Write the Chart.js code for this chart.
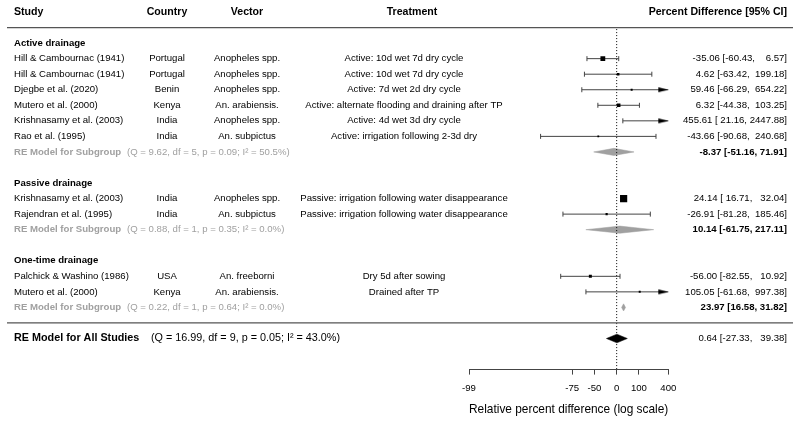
<!DOCTYPE html>
<html>
<head>
<meta charset="utf-8">
<script src="https://cdn.jsdelivr.net/npm/chart.js@4.4.1/dist/chart.umd.min.js"></script>
<style>
html, body { margin: 0; padding: 0; background: #fff; }
</style>
</head>
<body>
<canvas id="forest" width="800" height="422"></canvas>
<script>
// study level data
var studies = ["Hill & Cambournac (1941)", "Hill & Cambournac (1941)", "Djegbe et al. (2020)", "Mutero et al. (2000)", "Krishnasamy et al. (2003)", "Rao et al. (1995)", "Krishnasamy et al. (2003)", "Rajendran et al. (1995)", "Palchick & Washino (1986)", "Mutero et al. (2000)"];
var groups = ["Active drainage", "Active drainage", "Active drainage", "Active drainage", "Active drainage", "Active drainage", "Passive drainage", "Passive drainage", "One-time drainage", "One-time drainage"];
var countries = ["Portugal", "Portugal", "Benin", "Kenya", "India", "India", "India", "India", "USA", "Kenya"];
var vectors = ["Anopheles spp.", "Anopheles spp.", "Anopheles spp.", "An. arabiensis.", "Anopheles spp.", "An. subpictus", "Anopheles spp.", "An. subpictus", "An. freeborni", "An. arabiensis."];
var treatments = ["Active: 10d wet 7d dry cycle", "Active: 10d wet 7d dry cycle", "Active: 7d wet 2d dry cycle", "Active: alternate flooding and draining after TP", "Active: 4d wet 3d dry cycle", "Active: irrigation following 2-3d dry", "Passive: irrigation following water disappearance", "Passive: irrigation following water disappearance", "Dry 5d after sowing", "Drained after TP"];
var estimates = [-35.06, 4.62, 59.46, 6.32, 455.61, -43.66, 24.14, -26.91, -56.00, 105.05];
var lowers = [-60.43, -63.42, -66.29, -44.38, 21.16, -90.68, 16.71, -81.28, -82.55, -61.68];
var uppers = [6.57, 199.18, 654.22, 103.25, 2447.88, 240.68, 32.04, 185.46, 10.92, 997.38];
var weights = [18, 7, 4, 12, 4, 3, 30, 5, 9, 4];

// subgroup models
var groupNames = ["Active drainage", "Passive drainage", "One-time drainage"];
var groupEst = [-8.37, 10.14, 23.97];
var groupLower = [-51.16, -61.75, 16.58];
var groupUpper = [71.91, 217.11, 31.82];
var groupQ = ["9.62", "0.88", "0.22"];
var groupDf = [5, 1, 1];
var groupP = ["0.09", "0.35", "0.64"];
var groupI2 = ["50.5", "0.0", "0.0"];

// overall model
var allEst = 0.64;
var allLower = -27.33;
var allUpper = 39.38;
var allStats = ["16.99", 9, "0.05", "43.0"];

// axis
var tickValues = [-99, -75, -50, 0, 100, 400];
var axisTitle = "Relative percent difference (log scale)";

var FONT = "'Liberation Sans', Arial, sans-serif";

function lr(p){ return Math.log(1 + p / 100); }
var xMin = lr(tickValues[0]);
var xMax = lr(tickValues[tickValues.length - 1]);

// row layout (0 = header)
var studyRow = [];
var groupRow = [];
var subRow = [];
var row = 2;
groupNames.forEach(function(g, gi){
	groupRow[gi] = row; row++;
	studies.forEach(function(s, i){
		if(groups[i] == g){ studyRow[i] = row; row++; }
	});
	subRow[gi] = row; row += 2;
});
var lineRow = row - 1;
var allRow = row;
var axisRow = allRow + 2;

function arrowImage(dir){
	var c = document.createElement('canvas');
	c.width = 22; c.height = 7;
	var g = c.getContext('2d');
	g.fillStyle = '#000';
	g.beginPath();
	if(dir > 0){
		g.moveTo(1, 1); g.lineTo(11, 3.5); g.lineTo(1, 6);
	} else {
		g.moveTo(21, 1); g.lineTo(11, 3.5); g.lineTo(21, 6);
	}
	g.closePath();
	g.fill();
	return c;
}
var arrowRight = arrowImage(1);
var arrowLeft = arrowImage(-1);

function fmt(v, w){
	var s = v.toFixed(2);
	while(s.length < w) s = ' ' + s;
	return s;
}

// points
var pointData = [];
var pointSizes = [];
var wMin = Math.min.apply(null, weights), wMax = Math.max.apply(null, weights);
estimates.forEach(function(e, i){
	var x = lr(e);
	if(x < xMin || x > xMax) return;
	pointData.push({x: x, y: studyRow[i]});
	var side = 1.8 + 5.4 * (weights[i] - wMin) / (wMax - wMin);
	pointSizes.push(side / Math.SQRT2);
});

var datasets = [{
	data: pointData,
	pointStyle: 'rect',
	pointRadius: pointSizes,
	backgroundColor: '#000',
	borderWidth: 0,
	pointBorderWidth: 0
},{
	data: [{x: 0, y: 1.1}, {x: 0, y: axisRow}],
	showLine: true,
	borderColor: '#000',
	borderWidth: 1,
	borderDash: [1, 2],
	pointRadius: 0
}];

studies.forEach(function(s, i){
	var lo = lr(lowers[i]), hi = lr(uppers[i]);
	var loCut = lo < xMin, hiCut = hi > xMax;
	datasets.push({
		data: [{x: loCut ? xMin : lo, y: studyRow[i]}, {x: hiCut ? xMax : hi, y: studyRow[i]}],
		showLine: true,
		borderColor: '#444',
		borderWidth: 1,
		pointStyle: [loCut ? arrowLeft : 'line', hiCut ? arrowRight : 'line'],
		rotation: [loCut ? 0 : 90, hiCut ? 0 : 90],
		pointRadius: 2.5,
		pointBorderColor: '#444',
		pointBorderWidth: 1,
		clip: false
	});
});

function diamond(est, lo, hi, y, h, color){
	return {
		data: [{x: lr(lo), y: y}, {x: lr(est), y: y - h}, {x: lr(hi), y: y}, {x: lr(est), y: y + h}, {x: lr(lo), y: y}],
		showLine: true,
		fill: 'shape',
		backgroundColor: color,
		borderColor: color,
		borderWidth: 0.5,
		tension: 0,
		pointRadius: 0
	};
}
groupNames.forEach(function(g, gi){
	datasets.push(diamond(groupEst[gi], groupLower[gi], groupUpper[gi], subRow[gi], 0.23, '#a0a0a0'));
});
datasets.push(diamond(allEst, allLower, allUpper, allRow, 0.28, '#000'));

var textPlugin = {
	id: 'forestText',
	afterDraw: function(chart){
		var ctx = chart.ctx;
		var ys = chart.scales.y;
		var colStudy = 14, colCountry = 167, colVector = 247, colTreat = 404, colValue = 787;
		function Y(r){ return ys.getPixelForValue(r); }
		function txt(s, x, y, align, font, color){
			ctx.font = font;
			ctx.fillStyle = color || '#000';
			ctx.textAlign = align;
			ctx.textBaseline = 'middle';
			ctx.fillText(s, x, y);
		}
		var body = '9.6px ' + FONT;
		var bold = 'bold 9.6px ' + FONT;
		var head = 'bold 10.6px ' + FONT;
		ctx.save();

		// header
		txt('Study', colStudy, Y(0), 'left', head);
		txt('Country', colCountry, Y(0), 'center', head);
		txt('Vector', colVector, Y(0), 'center', head);
		txt('Treatment', 412, Y(0), 'center', head);
		txt('Percent Difference [95% CI]', colValue, Y(0), 'right', head);

		// separator lines
		ctx.strokeStyle = '#555';
		ctx.lineWidth = 1.3;
		[1, lineRow].forEach(function(r){
			ctx.beginPath();
			ctx.moveTo(7, Y(r));
			ctx.lineTo(793, Y(r));
			ctx.stroke();
		});

		groupNames.forEach(function(g, gi){
			txt(g, colStudy, Y(groupRow[gi]), 'left', bold);
			txt('RE Model for Subgroup', colStudy, Y(subRow[gi]), 'left', bold, '#a0a0a0');
			txt('(Q = ' + groupQ[gi] + ', df = ' + groupDf[gi] + ', p = ' + groupP[gi] + '; I\u00B2 = ' + groupI2[gi] + '%)', 127, Y(subRow[gi]), 'left', body, '#a0a0a0');
			txt(groupEst[gi].toFixed(2) + ' [' + groupLower[gi].toFixed(2) + ', ' + groupUpper[gi].toFixed(2) + ']', colValue, Y(subRow[gi]), 'right', bold);
		});

		studies.forEach(function(s, i){
			var y = Y(studyRow[i]);
			txt(s, colStudy, y, 'left', body);
			txt(countries[i], colCountry, y, 'center', body);
			txt(vectors[i], colVector, y, 'center', body);
			txt(treatments[i], colTreat, y, 'center', body);
			txt(estimates[i].toFixed(2) + ' [' + fmt(lowers[i], 6) + ', ' + fmt(uppers[i], 7) + ']', colValue, y, 'right', body);
		});

		// overall
		txt('RE Model for All Studies', colStudy, Y(allRow), 'left', 'bold 10.8px ' + FONT);
		txt('(Q = ' + allStats[0] + ', df = ' + allStats[1] + ', p = ' + allStats[2] + '; I\u00B2 = ' + allStats[3] + '%)', 151, Y(allRow), 'left', '10.8px ' + FONT);
		txt(allEst.toFixed(2) + ' [' + fmt(allLower, 6) + ', ' + fmt(allUpper, 7) + ']', colValue, Y(allRow), 'right', body);
		ctx.restore();
	}
};

var forest_config = {
	type: 'scatter',
	data: { datasets: datasets },
	options: {
		responsive: false,
		animation: false,
		layout: { padding: { left: 469, right: 131.7, top: 12, bottom: 0 } },
		scales: {
			x: {
				type: 'linear',
				min: xMin,
				max: xMax,
				afterFit: function(scale){ scale.height = 52.4; },
				afterBuildTicks: function(scale){
					scale.ticks = tickValues.map(function(v){ return {value: lr(v)}; });
				},
				ticks: {
					autoSkip: false,
					maxRotation: 0,
					padding: 8,
					color: '#000',
					font: { family: FONT, size: 9.6 },
					callback: function(value, index){ return String(tickValues[index]); }
				},
				grid: {
					drawOnChartArea: false,
					drawTicks: true,
					tickLength: 5,
					color: '#444'
				},
				border: { display: true, color: '#444', width: 1 },
				title: {
					display: true,
					text: axisTitle,
					color: '#000',
					font: { family: FONT, size: 12.8 },
					padding: { top: 0, bottom: 5 }
				}
			},
			y: {
				type: 'linear',
				display: false,
				reverse: true,
				min: 0,
				max: axisRow
			}
		},
		plugins: {
			legend: { display: false },
			tooltip: { enabled: false }
		}
	},
	plugins: [textPlugin]
};

document.addEventListener("DOMContentLoaded", function(){
	new Chart(document.getElementById("forest").getContext('2d'), forest_config);
});
</script>
</body>
</html>
